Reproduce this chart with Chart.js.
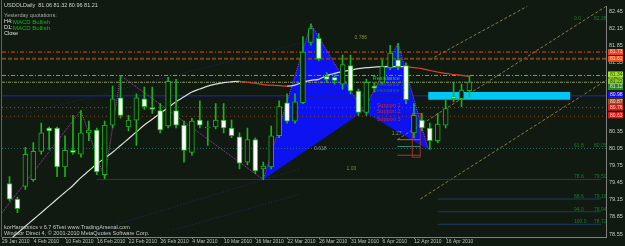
<!DOCTYPE html>
<html>
<head>
<meta charset="utf-8">
<script src="https://cdn.jsdelivr.net/npm/chart.js@4.4.1/dist/chart.umd.min.js"></script>
<style>
  html, body { margin: 0; padding: 0; background: #101a10; }
  canvas { display: block; }
</style>
</head>
<body>
<canvas id="chart" width="625" height="246"></canvas>
<script>
// Daily candles, 29 Jan 2010 .. 20 Apr 2010 (bar index 0..58)
const dateLabels = ['29 Jan 2010', '4 Feb 2010', '10 Feb 2010', '16 Feb 2010', '22 Feb 2010', '26 Feb 2010',
    '4 Mar 2010', '10 Mar 2010', '16 Mar 2010', '22 Mar 2010', '26 Mar 2010', '31 Mar 2010',
    '6 Apr 2010', '12 Apr 2010', '16 Apr 2010'];

const openP = [79.434, 79.162, 79.383, 79.503, 79.997, 80.406, 80.406, 79.724, 80.014, 79.946,
    80.32, 80.371, 79.588, 80.457, 80.934, 80.423, 80.542, 80.917, 80.763, 80.712,
    80.44, 80.712, 80.457, 79.98, 80.542, 80.406, 80.423, 80.542, 80.406, 80.252,
    79.809, 80.201, 79.69, 79.724, 80.269, 80.848, 80.525, 80.848, 81.905, 81.973,
    81.308, 81.291, 81.172, 81.496, 81.053, 80.678, 81.138, 81.206, 81.462, 81.598,
    81.496, 80.32, 80.542, 80.406, 80.184, 80.457, 80.951, 80.917, 81.06];
const highP = [79.554, 79.196, 80.065, 80.15, 80.491, 80.423, 80.423, 80.269, 80.627, 80.712,
    80.525, 80.406, 80.525, 81.138, 81.325, 80.627, 81.002, 81.121, 81.121, 80.831,
    81.291, 81.257, 80.525, 80.576, 80.882, 80.525, 80.831, 80.831, 80.542, 80.32,
    80.406, 80.235, 79.809, 80.44, 80.882, 81.002, 81.002, 82.007, 82.228, 82.058,
    81.377, 81.342, 81.683, 81.683, 81.087, 81.257, 81.206, 81.598, 81.854, 81.888,
    81.547, 80.831, 80.661, 80.491, 80.661, 80.917, 81.206, 81.172, 81.32];
const lowP = [79.128, 78.923, 79.332, 79.469, 79.946, 80.031, 79.554, 79.554, 79.946, 79.894,
    80.184, 79.588, 79.52, 80.406, 80.576, 80.354, 80.099, 80.729, 80.661, 80.32,
    80.406, 80.406, 79.809, 79.929, 80.406, 80.099, 80.388, 80.32, 80.235, 79.69,
    79.758, 79.605, 79.503, 79.69, 80.235, 80.491, 80.491, 80.831, 81.854, 81.581,
    81.206, 81.172, 81.087, 81.002, 80.627, 80.627, 81.036, 81.172, 81.428, 81.428,
    80.831, 80.235, 80.354, 80.031, 80.15, 80.406, 80.865, 80.78, 80.96];
const closeP = [79.162, 78.992, 79.946, 79.997, 80.32, 80.354, 79.724, 80.014, 79.98, 80.32,
    80.371, 79.639, 80.457, 80.917, 80.627, 80.542, 80.934, 80.78, 80.729, 80.371,
    81.223, 80.457, 80.014, 80.525, 80.457, 80.423, 80.542, 80.406, 80.269, 79.792,
    80.201, 79.656, 79.741, 80.269, 80.78, 80.525, 80.865, 81.734, 82.143, 81.615,
    81.257, 81.24, 81.513, 81.053, 80.678, 81.206, 81.104, 81.479, 81.717, 81.479,
    80.9, 80.627, 80.406, 80.184, 80.474, 80.746, 80.917, 81.07, 81.21];

// moving average (white rising, red falling)
const maLine = [78.446, 78.566, 78.685, 78.804, 78.923, 79.043, 79.162, 79.281, 79.4, 79.537,
    79.656, 79.775, 79.877, 79.98, 80.099, 80.218, 80.337, 80.457, 80.559, 80.661,
    80.763, 80.865, 80.951, 81.036, 81.087, 81.138, 81.172, 81.198, 81.215, 81.223,
    81.206, 81.189, 81.164, 81.155, 81.147, 81.138, 81.155, 81.206, 81.24, 81.257,
    81.325, 81.36, 81.394, 81.419, 81.445, 81.462, 81.47, 81.479, 81.479, 81.479,
    81.479, 81.462, 81.445, 81.411, 81.385, 81.36, 81.342, 81.325, 81.308];

// zigzag turning points
const zigIdx = [-0.95, 9, 12, 14, 32, 38, 44.6, 49, 52.8];
const zigPrice = [78.923, 80.712, 79.52, 81.325, 79.503, 82.228, 80.695, 81.888, 80.031];

// harmonic pattern X A B C D
const patIdx = [32, 38, 44.6, 49, 52.8];
const patPrice = [79.503, 82.228, 80.695, 81.888, 80.031];

// horizontal levels
const levelPrices = [81.734, 81.615, 81.325, 81.206, 80.968, 80.763, 80.61, 80.048];
const levelColors = ['#e8461c', '#7a4414', '#3ccc2c', '#8a9a62', '#1c1c8c', '#c42a20', '#80441a', '#2e6a6a'];
const levelDash = [[4, 2, 1, 2], [4, 2], [4, 2, 1, 2], [3, 1, 1, 1], [], [1, 3], [1, 3], [1, 2]];
const levelWidth = [1, 2, 1, 1, 1.5, 1, 1, 1];

// lower fib lines on the right
const fibPrices = [79.503, 79.162, 78.94, 78.72];
const fibStart = [11, 54, 54, 54];
const fibNames = ['78.6', '88.6', '94.0', '100.0'];

// faint fan lines (index, price)
const fanLines = [
    [[-0.95, 80.55], [36.6, 81.888]],
    [[11.0, 78.617], [36.6, 79.69]],
    [[20.6, 78.617], [36.6, 79.247]]
];

// short target lines near point D
const dLinePrices = [80.201, 80.082, 79.929];
const dLineColors = ['#c8642a', '#2a8a7a', '#8a4a2a'];
const dLineIdx = [48.9, 51.8];

// target rectangle around D
const dBoxIdx = [50.8, 51.8];
const dBoxPrice = [79.894, 80.661];

// price boxes on the axis
const boxPrices = [81.734, 81.615, 81.342, 81.223, 81.121, 80.985, 80.866, 80.763, 80.627];
const boxColors = ['#f0401a', '#f0501a', '#a8e030', '#8cc828', '#1f8a1f', '#1010f0', '#a04a2a', '#e81818', '#f01010'];

// channel lines (index, price)
const chanA = [[48.9, 80.201], [75.22, 82.535]];
const chanB = [[51.8, 79.162], [75.22, 81.24]];
const chanC = [[53.0, 81.6], [65.3, 82.535]];

// cyan zone
const zoneIdx = [52.8, 70.7];
const zonePrice = [80.9, 81.036];

const yTicks = [82.45, 82.15, 81.85, 81.55, 81.25, 80.95, 80.65, 80.35, 80.05, 79.75, 79.45, 79.15, 78.85, 78.55];

const xMin = -0.95, xMax = 75.22;
const bg = '#101a10';
const candleGreen = '#1fb01f';
const fontFam = 'Liberation Sans';

Chart.defaults.font.family = fontFam;

const idx = openP.map((v, i) => i);
const isBear = i => closeP[i] < openP[i];

function segLine(pts, color, dash, width) {
    return {
        type: 'line',
        data: pts.map(pt => ({ x: pt[0], y: pt[1] })),
        borderColor: color,
        borderDash: dash,
        borderWidth: width,
        pointRadius: 0
    };
}

const datasets = [];
// bodies first so they sit on top
datasets.push({
    type: 'bar',
    data: idx.map(i => ({ x: i, y: [openP[i], closeP[i]] })),
    backgroundColor: c => isBear(c.dataIndex) ? '#ffffff' : bg,
    borderColor: candleGreen,
    borderWidth: 1,
    borderSkipped: false,
    barThickness: 5,
    minBarLength: 1,
    grouped: false
});
datasets.push({
    type: 'bar',
    data: idx.map(i => ({ x: i, y: [lowP[i], highP[i]] })),
    backgroundColor: candleGreen,
    barThickness: 1,
    grouped: false
});
datasets.push({
    type: 'line',
    data: idx.map(i => ({ x: i, y: maLine[i] })),
    borderWidth: 1.2,
    pointRadius: 0,
    tension: 0.3,
    segment: {
        borderColor: c => c.p1.parsed.y < c.p0.parsed.y ? '#e0402a' : '#dcdcdc'
    }
});
datasets.push(segLine(zigIdx.map((v, k) => [v, zigPrice[k]]), '#b040b8', [1, 1], 1));
levelPrices.forEach((p, k) => {
    datasets.push(segLine([[xMin, p], [xMax, p]], levelColors[k], levelDash[k], levelWidth[k]));
});
fibPrices.forEach((p, k) => {
    datasets.push(segLine([[fibStart[k], p], [74.6, p]], '#1e3c5e', [], 1));
});
fanLines.forEach(f => datasets.push(segLine(f, '#1c2a66', [1, 2], 1)));
dLinePrices.forEach((p, k) => {
    datasets.push(segLine([[dLineIdx[0], p], [dLineIdx[1], p]], dLineColors[k], [], 1));
});
[chanA, chanB, chanC].forEach(ch => datasets.push(segLine(ch, '#8c7a46', [3, 2], 1)));

function clipArea(chart) {
    const a = chart.chartArea;
    chart.ctx.beginPath();
    chart.ctx.rect(a.left, a.top, a.right - a.left, a.bottom - a.top);
    chart.ctx.clip();
}

// background, pattern triangles, then cyan zone just under the candles
const backPlugin = {
    id: 'back',
    beforeDraw(chart) {
        const ctx = chart.ctx;
        ctx.save();
        ctx.fillStyle = bg;
        ctx.fillRect(0, 0, chart.width, chart.height);
        ctx.restore();
    },
    beforeDatasetsDraw(chart) {
        const { ctx, scales: { x, y } } = chart;
        ctx.save();
        clipArea(chart);
        [[0, 1, 2], [2, 3, 4]].forEach(tri => {
            ctx.beginPath();
            tri.forEach((k, j) => {
                const px = x.getPixelForValue(patIdx[k]);
                const py = y.getPixelForValue(patPrice[k]);
                if (j) ctx.lineTo(px, py); else ctx.moveTo(px, py);
            });
            ctx.closePath();
            ctx.fillStyle = '#0c12f0';
            ctx.fill();
        });
        ctx.restore();
    },
    beforeDatasetDraw(chart, args) {
        if (args.index !== 1) return;
        const { ctx, scales: { x, y } } = chart;
        ctx.save();
        clipArea(chart);
        const zx0 = x.getPixelForValue(zoneIdx[0]), zx1 = x.getPixelForValue(zoneIdx[1]);
        const zy0 = y.getPixelForValue(zonePrice[1]), zy1 = y.getPixelForValue(zonePrice[0]);
        ctx.fillStyle = '#00c8f6';
        ctx.fillRect(zx0, zy0, zx1 - zx0, zy1 - zy0);
        const bx0 = x.getPixelForValue(dBoxIdx[0]), bx1 = x.getPixelForValue(dBoxIdx[1]);
        const by0 = y.getPixelForValue(dBoxPrice[1]), by1 = y.getPixelForValue(dBoxPrice[0]);
        ctx.strokeStyle = '#a0302a';
        ctx.lineWidth = 1;
        ctx.strokeRect(bx0, by0, bx1 - bx0, by1 - by0);
        ctx.restore();
    }
};

// texts, labels and axis boxes
const textPlugin = {
    id: 'texts',
    afterDraw(chart) {
        const { ctx, chartArea: a, scales: { x, y } } = chart;
        const last = openP.length - 1;
        ctx.save();
        ctx.textBaseline = 'top';
        ctx.font = '5.5px ' + fontFam;
        ctx.fillStyle = '#d0d0d0';
        ctx.fillText('USDOLDaily  ' + [openP[last], highP[last], lowP[last], closeP[last]].map(v => v.toFixed(2)).join(' '), 4, 3);
        ctx.fillStyle = '#a8a8a8';
        ctx.fillText('Yesterday quotations:', 4, 13);
        ctx.fillStyle = '#e0e0e0';
        ctx.fillText('H4:', 4, 19);
        ctx.fillText('D1:', 4, 25);
        ctx.fillText('Close', 4, 31);
        ctx.fillStyle = '#19b019';
        ctx.font = '6px ' + fontFam;
        ctx.fillText('MACD Bullish', 13, 19);
        ctx.fillText('MACD Bullish', 13, 25);

        ctx.font = '5.5px ' + fontFam;
        ctx.fillStyle = '#c8c8c8';
        ctx.fillText('korHarmonics v 6.7 6Test www.TradingArsenal.com', 4, 225);
        ctx.fillText('Windsor Direct 4, \u00a9 2001-2010 MetaQuotes Software Corp.', 4, 231);

        // pattern labels
        ctx.textBaseline = 'middle';
        ctx.font = '5px ' + fontFam;
        ctx.fillStyle = '#8a8a3a';
        ctx.fillText('0.786', x.getPixelForValue(43.5), y.getPixelForValue(81.99));
        ctx.fillText('1.00', x.getPixelForValue(42.5), y.getPixelForValue(79.7));
        ctx.fillStyle = '#909090';
        ctx.fillText('0.618', x.getPixelForValue(38.4), y.getPixelForValue(80.05));
        ctx.fillText('1.27', x.getPixelForValue(48.2), y.getPixelForValue(80.3));
        ctx.font = '5.5px ' + fontFam;
        ctx.fillStyle = '#2ec82e';
        ctx.fillText('Resistance', x.getPixelForValue(45.8), y.getPixelForValue(81.27));
        ctx.fillStyle = '#1a7a1a';
        ctx.fillText('Resistance 2', x.getPixelForValue(45.8), y.getPixelForValue(81.17));
        ctx.fillText('Resistance 3', x.getPixelForValue(45.8), y.getPixelForValue(81.07));
        ctx.fillStyle = '#d02a20';
        ctx.fillText('Support 1', x.getPixelForValue(46.3), y.getPixelForValue(80.8));
        ctx.fillText('Support 2', x.getPixelForValue(46.3), y.getPixelForValue(80.7));
        ctx.fillText('Support 3', x.getPixelForValue(46.3), y.getPixelForValue(80.56));

        // small fib labels on the right
        ctx.font = '5px ' + fontFam;
        ctx.fillStyle = '#1f7a2a';
        ctx.textBaseline = 'bottom';
        [82.28, 80.048].concat(fibPrices).forEach((p, k) => {
            const py = y.getPixelForValue(p);
            ctx.fillText(['0.0', '61.8'].concat(fibNames)[k], a.right - 32, py);
            ctx.fillText(p.toFixed(2), a.right - 12, py);
        });

        // left frame line
        ctx.strokeStyle = '#606060';
        ctx.beginPath();
        ctx.moveTo(1.5, 0);
        ctx.lineTo(1.5, a.bottom);
        ctx.stroke();

        // boxes on the price axis
        ctx.textBaseline = 'middle';
        ctx.font = '5px ' + fontFam;
        boxPrices.forEach((p, k) => {
            const py = y.getPixelForValue(p);
            ctx.fillStyle = boxColors[k];
            ctx.fillRect(a.right + 2, py - 3, 15, 6);
            ctx.fillStyle = k >= 2 && k <= 3 ? '#2a5010' : '#f8d8c8';
            ctx.fillText(p.toFixed(2), a.right + 4, py);
        });
        ctx.restore();
    }
};

const chart = new Chart(document.getElementById('chart'), {
    type: 'bar',
    data: { datasets: datasets },
    options: {
        responsive: false,
        animation: false,
        devicePixelRatio: 1,
        layout: { padding: { left: 2, top: 0, right: 0, bottom: 0 } },
        plugins: { legend: { display: false }, tooltip: { enabled: false } },
        scales: {
            x: {
                type: 'linear',
                min: xMin,
                max: xMax,
                offset: false,
                grid: { display: true, drawOnChartArea: false, drawTicks: true, tickLength: 2, color: '#808080', offset: false },
                border: { display: true, color: '#808080' },
                ticks: {
                    align: 'start',
                    autoSkip: false,
                    maxRotation: 0,
                    padding: 0,
                    color: '#c0c0c0',
                    font: { size: 5, family: fontFam },
                    callback: (v, k) => dateLabels[k]
                },
                afterBuildTicks: s => { s.ticks = dateLabels.map((d, k) => ({ value: 4 * k + xMin })); },
                afterFit: s => { s.height = 9; }
            },
            y: {
                position: 'right',
                min: 78.498,
                max: 82.535,
                grid: { display: false, drawTicks: false },
                border: { display: true, color: '#808080' },
                ticks: {
                    padding: 3,
                    color: '#c8c8c8',
                    font: { size: 5.5, family: fontFam },
                    callback: v => v.toFixed(2)
                },
                afterBuildTicks: s => { s.ticks = yTicks.map(v => ({ value: v })); },
                afterFit: s => { s.width = 19; }
            }
        }
    },
    plugins: [backPlugin, textPlugin]
});
</script>
</body>
</html>
